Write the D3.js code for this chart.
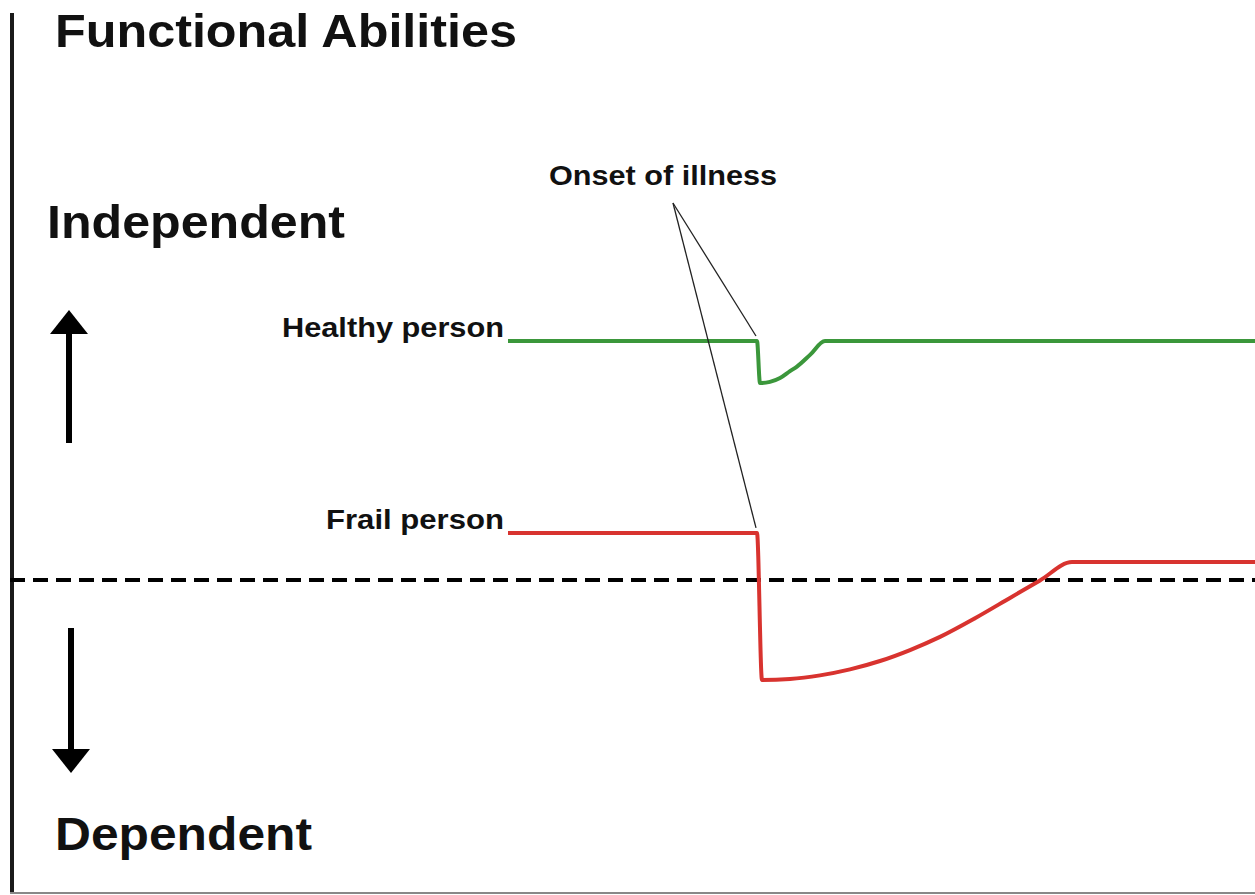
<!DOCTYPE html>
<html lang="en">
<head>
  <meta charset="UTF-8">
  <title>Functional Abilities</title>
  <style>
    body { margin: 0; background: #fff; }
    text { font-family: "Liberation Sans", Arial, sans-serif; font-weight: bold; fill: #111; }
    .person { fill: none; stroke-width: 4px; stroke-linejoin: round; }
  </style>
  <script src="https://d3js.org/d3.v7.min.js"></script>
</head>
<body>
<div id="chart"></div>
<script>
  // time axis: 0..100, onset of illness at 60
  // ability axis: 0 = threshold between independent and dependent
  var healthyTime = [40, 60, 60.24, 61.04, 61.85, 62.65, 63.21, 64.26, 65.46, 100];
  var healthyAbility = [10, 10, 8.24, 8.29, 8.45, 8.74, 8.93, 9.42, 10, 10];

  var frailTime = [40, 60, 60.4, 62.65, 65.06, 67.47, 69.88, 72.29, 74.7, 77.51, 80.32, 82.73, 85.3, 100];
  var frailAbility = [1.97, 1.97, -4.18, -4.14, -3.99, -3.74, -3.39, -2.93, -2.38, -1.6, -0.75, -0.02, 0.75, 0.75];

  var threshold = 0;
  var onset = 60;

  var width = 1255, height = 895;

  var svg = d3.select("#chart").append("svg")
    .attr("width", width)
    .attr("height", height);

  var x = d3.scaleLinear().domain([0, 100]).range([10, 1255]);
  var y = d3.scaleLinear().domain([0, 10]).range([580, 341]);

  // axes
  svg.append("line")
    .attr("x1", 12).attr("x2", 12)
    .attr("y1", 13).attr("y2", 893)
    .attr("stroke", "#1a1a1a").attr("stroke-width", 4);

  svg.append("line")
    .attr("x1", 10).attr("x2", width)
    .attr("y1", 893).attr("y2", 893)
    .attr("stroke", "#888").attr("stroke-width", 2);

  // independence threshold
  svg.append("line")
    .attr("x1", 10).attr("x2", width)
    .attr("y1", y(threshold)).attr("y2", y(threshold))
    .attr("stroke", "#000").attr("stroke-width", 4)
    .attr("stroke-dasharray", "15 8");

  // titles
  svg.append("text").attr("x", 55).attr("y", 47)
    .attr("font-size", 46).attr("textLength", 462).attr("lengthAdjust", "spacingAndGlyphs")
    .text("Functional Abilities");
  svg.append("text").attr("x", 47).attr("y", 238)
    .attr("font-size", 46).attr("textLength", 298).attr("lengthAdjust", "spacingAndGlyphs")
    .text("Independent");
  svg.append("text").attr("x", 55).attr("y", 850)
    .attr("font-size", 46).attr("textLength", 257).attr("lengthAdjust", "spacingAndGlyphs")
    .text("Dependent");

  // arrows
  svg.append("line").attr("x1", 69).attr("x2", 69).attr("y1", 443).attr("y2", 328)
    .attr("stroke", "#000").attr("stroke-width", 6);
  svg.append("path").attr("d", "M69,310 L50,334 L88,334 Z").attr("fill", "#000");
  svg.append("line").attr("x1", 71).attr("x2", 71).attr("y1", 628).attr("y2", 755)
    .attr("stroke", "#000").attr("stroke-width", 6);
  svg.append("path").attr("d", "M71,773 L52,749 L90,749 Z").attr("fill", "#000");

  var line = d3.line().curve(d3.curveMonotoneX);

  var series = [
    { name: "Healthy person", t: healthyTime, a: healthyAbility, color: "#3b973b", labelLen: 222 },
    { name: "Frail person", t: frailTime, a: frailAbility, color: "#d8332f", labelLen: 178 }
  ];

  series.forEach(function(s) {
    var pts = s.t.map(function(t, i) { return [x(t), y(s.a[i])]; });
    svg.append("path")
      .attr("class", "person")
      .attr("stroke", s.color)
      .attr("d", line(pts));
    svg.append("text")
      .attr("x", x(s.t[0]) - 4 - s.labelLen)
      .attr("y", y(s.a[0]) - 4)
      .attr("font-size", 28)
      .attr("textLength", s.labelLen).attr("lengthAdjust", "spacingAndGlyphs")
      .text(s.name);
  });

  // onset annotation
  svg.append("text").attr("x", 549).attr("y", 185)
    .attr("font-size", 28).attr("textLength", 228).attr("lengthAdjust", "spacingAndGlyphs")
    .text("Onset of illness");

  var apex = [673, 203];
  [healthyAbility[0], frailAbility[0]].forEach(function(a) {
    svg.append("line")
      .attr("x1", apex[0]).attr("y1", apex[1])
      .attr("x2", x(onset) - 1).attr("y2", y(a) - 5)
      .attr("stroke", "#222").attr("stroke-width", 1.3);
  });
</script>
</body>
</html>
